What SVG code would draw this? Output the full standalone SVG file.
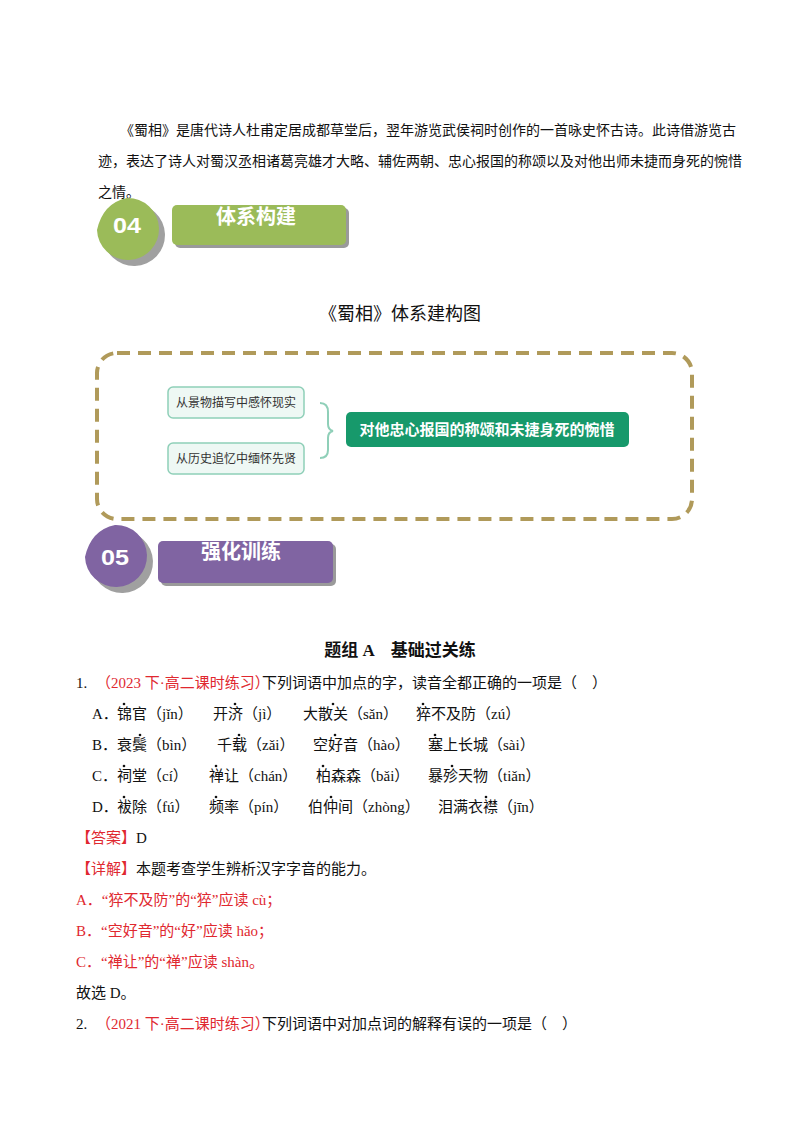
<svg xmlns="http://www.w3.org/2000/svg" width="800" height="1132" viewBox="0 0 800 1132">
<style>
.t{font-family:"Liberation Serif","Noto Sans CJK SC",serif;font-size:15px;fill:#111}
.r{fill:#e0282f}
.s{font-family:"Noto Sans CJK SC",sans-serif}
.dot{fill:#111}
</style>
<rect width="800" height="1132" fill="#fff"/>
<g id="intro" class="t">
<text x="120" y="135" style="font-size:14px">《蜀相》是唐代诗人杜甫定居成都草堂后，翌年游览武侯祠时创作的一首咏史怀古诗。此诗借游览古</text>
<text x="98" y="166" style="font-size:14px">迹，表达了诗人对蜀汉丞相诸葛亮雄才大略、辅佐两朝、忠心报国的称颂以及对他出师未捷而身死的惋惜</text>
<text x="98" y="197" style="font-size:14px">之情。</text>
</g>
<g id="sec04">
<path d="M100,233 Q106,206 130,201 A31,31 0 1 1 100,233 Z" fill="#a0a0a0" transform="translate(3,3)"/>
<path d="M97,230 Q103,203 127,198 A31,31 0 1 1 97,230 Z" fill="#9bbb59"/>
<text x="127" y="233" text-anchor="middle" font-family="Liberation Sans,sans-serif" font-weight="bold" font-size="22" fill="#fff" textLength="28" lengthAdjust="spacingAndGlyphs">04</text>
<rect x="175" y="208" width="174" height="40" rx="5" fill="#9a9a9a"/>
<rect x="172" y="205" width="174" height="40" rx="5" fill="#9bbb59"/>
<text x="256" y="224" text-anchor="middle" class="s" font-weight="bold" font-size="20" fill="#fff">体系构建</text>
</g>
<text x="400" y="320" text-anchor="middle" class="s" font-size="18" fill="#111">《蜀相》体系建构图</text>
<g id="frame"><rect x="97" y="353" width="595" height="166" rx="20" fill="none" stroke="#b09a5a" stroke-width="4" stroke-dasharray="13,8"/></g>
<g id="n1"><rect x="168" y="387" width="136" height="31" rx="5" fill="#eef8f4" stroke="#8fcfb8" stroke-width="1.5"/><text x="236" y="407" text-anchor="middle" class="s" font-size="12" fill="#333">从景物描写中感怀现实</text></g>
<g id="n2"><rect x="168" y="443" width="136" height="31" rx="5" fill="#eef8f4" stroke="#8fcfb8" stroke-width="1.5"/><text x="236" y="463" text-anchor="middle" class="s" font-size="12" fill="#333">从历史追忆中缅怀先贤</text></g>
<g id="connectors"><path d="M320,403 Q328,403 328,412 L328,424 Q328,430 333,431 Q328,432 328,438 L328,450 Q328,458 320,458" fill="none" stroke="#8fcfb8" stroke-width="2"/></g>
<g id="n3"><rect x="346" y="412" width="283" height="35" rx="5" fill="#17996b"/><text x="487" y="435" text-anchor="middle" class="s" font-size="15" font-weight="bold" fill="#fff">对他忠心报国的称颂和未捷身死的惋惜</text></g>
<g id="sec05">
<path d="M88,560 Q94,533 118,528 A31,31 0 1 1 88,560 Z" fill="#a0a0a0" transform="translate(3,3)"/>
<path d="M85,557 Q91,530 115,525 A31,31 0 1 1 85,557 Z" fill="#8064a2"/>
<text x="115" y="565" text-anchor="middle" font-family="Liberation Sans,sans-serif" font-weight="bold" font-size="22" fill="#fff" textLength="28" lengthAdjust="spacingAndGlyphs">05</text>
<rect x="161" y="544" width="175" height="42" rx="5" fill="#9a9a9a"/>
<rect x="158" y="541" width="175" height="42" rx="5" fill="#8064a2"/>
<text x="241" y="559" text-anchor="middle" class="s" font-weight="bold" font-size="20" fill="#fff">强化训练</text>
</g>
<g id="body" class="t">
<text x="400" y="656" text-anchor="middle" style="font-size:17px;font-weight:bold">题组 A　基础过关练</text>
<text x="76" y="688">1.</text><text x="96" y="688" class="r">（2023 下·高二课时练习）</text><text x="262" y="688">下列词语中加点的字，读音全都正确的一项是（　）</text>
<text y="719"><tspan x="92">A．</tspan><tspan x="117">锦官（jǐn）</tspan><tspan x="213">开济（jì）</tspan><tspan x="303">大散关（sǎn）</tspan><tspan x="416">猝不及防（zú）</tspan></text>
<text y="750"><tspan x="92">B．</tspan><tspan x="117">衰鬓（bìn）</tspan><tspan x="217">千载（zǎi）</tspan><tspan x="313">空好音（hào）</tspan><tspan x="428">塞上长城（sài）</tspan></text>
<text y="781"><tspan x="92">C．</tspan><tspan x="117">祠堂（cí）</tspan><tspan x="209">禅让（chán）</tspan><tspan x="316">柏森森（bǎi）</tspan><tspan x="428">暴殄天物（tiǎn）</tspan></text>
<text y="812"><tspan x="92">D．</tspan><tspan x="117">袚除（fú）</tspan><tspan x="209">频率（pín）</tspan><tspan x="308">伯仲间（zhòng）</tspan><tspan x="438">泪满衣襟（jīn）</tspan></text>
<text x="76" y="843"><tspan class="r">【答案】</tspan>D</text>
<text x="76" y="874"><tspan class="r">【详解】</tspan>本题考查学生辨析汉字字音的能力。</text>
<text x="76" y="905" class="r">A．“猝不及防”的“猝”应读 cù；</text>
<text x="76" y="936" class="r">B．“空好音”的“好”应读 hǎo；</text>
<text x="76" y="967" class="r">C．“禅让”的“禅”应读 shàn。</text>
<text x="76" y="998">故选 D。</text>
<text x="76" y="1029">2.</text><text x="96" y="1029" class="r">（2021 下·高二课时练习）</text><text x="262" y="1029">下列词语中对加点词的解释有误的一项是（　）</text>
</g>
<g id="dots" class="dot">
<circle cx="124" cy="704" r="1.3"/><circle cx="235" cy="704" r="1.3"/><circle cx="333" cy="704" r="1.3"/><circle cx="423" cy="704" r="1.3"/>
<circle cx="140" cy="735" r="1.3"/><circle cx="239" cy="735" r="1.3"/><circle cx="335" cy="735" r="1.3"/><circle cx="435" cy="735" r="1.3"/>
<circle cx="124" cy="766" r="1.3"/><circle cx="216" cy="766" r="1.3"/><circle cx="323" cy="766" r="1.3"/><circle cx="452" cy="766" r="1.3"/>
<circle cx="124" cy="797" r="1.3"/><circle cx="216" cy="797" r="1.3"/><circle cx="331" cy="797" r="1.3"/><circle cx="486" cy="797" r="1.3"/>
</g>
</svg>
